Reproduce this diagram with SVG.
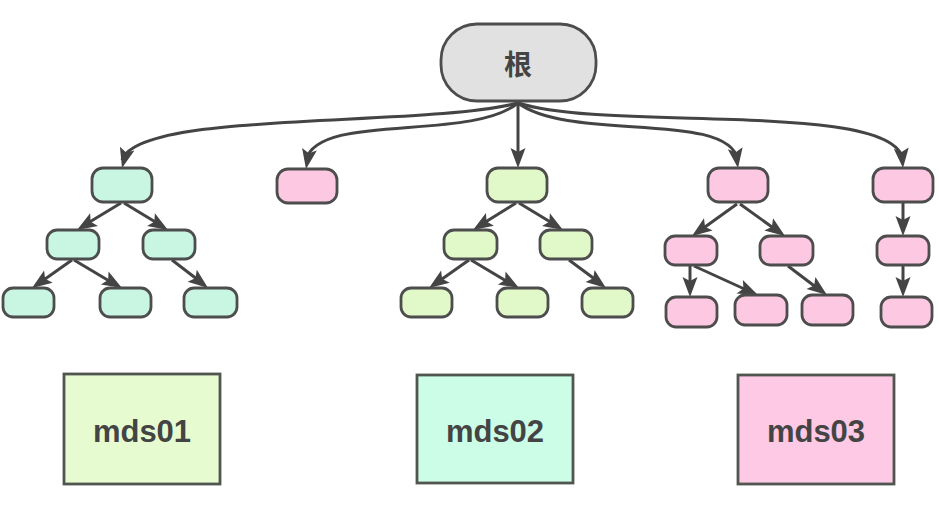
<svg xmlns="http://www.w3.org/2000/svg" xmlns:xlink="http://www.w3.org/1999/xlink" width="939" height="510" viewBox="0 0 939 510">
<defs>
<path id="tip" d="M0,0 L-20,-7.5 L-16,0 L-20,7.5 Z" fill="#444"/>
<style>
.n{stroke:#4d4d4d;stroke-width:2.8}
.t{fill:#c9f6e2}.g{fill:#e1f8c8}.p{fill:#fcc8e2}
.c{fill:none;stroke:#444;stroke-width:3}
.box{stroke:#505550;stroke-width:2.8}
.lbl{font-family:"Liberation Sans",Arial,sans-serif;font-weight:bold;font-size:31px;fill:#444;text-anchor:middle}
</style>
</defs>
<rect width="939" height="510" fill="#fff"/>
<g id="connectors">
<path class="c" d="M518,103 C420,128 140,110 122,160"/>
<path class="c" d="M518,103 C470,142 318,112 306,160"/>
<path class="c" d="M518,103 L518,160"/>
<path class="c" d="M518,103 C570,142 728,110 738,160"/>
<path class="c" d="M518,103 C610,132 895,100 903,160"/>
<path class="c" d="M121,203 L83,226"/>
<path class="c" d="M124,203 L162,226"/>
<path class="c" d="M72,260 L38,284"/>
<path class="c" d="M74,260 L116,285"/>
<path class="c" d="M172,260 L202,283"/>
<path class="c" d="M516,203 L479,226"/>
<path class="c" d="M519,203 L557,226"/>
<path class="c" d="M469,260 L435,284"/>
<path class="c" d="M471,260 L513,285"/>
<path class="c" d="M569,260 L600,283"/>
<path class="c" d="M737,204 L698,232"/>
<path class="c" d="M740,204 L779,232"/>
<path class="c" d="M690,266 L690,290"/>
<path class="c" d="M694,266 L751,292"/>
<path class="c" d="M788,266 L821,291"/>
<path class="c" d="M903,203 L903,229"/>
<path class="c" d="M903,266 L903,290"/>
<use xlink:href="#tip" transform="translate(122,168) rotate(105)"/>
<use xlink:href="#tip" transform="translate(306,169) rotate(100)"/>
<use xlink:href="#tip" transform="translate(518,168) rotate(90)"/>
<use xlink:href="#tip" transform="translate(738,168) rotate(82)"/>
<use xlink:href="#tip" transform="translate(903,168) rotate(85)"/>
<use xlink:href="#tip" transform="translate(77,230) rotate(148.5)"/>
<use xlink:href="#tip" transform="translate(168,230) rotate(31.5)"/>
<use xlink:href="#tip" transform="translate(32,288) rotate(145)"/>
<use xlink:href="#tip" transform="translate(122,288) rotate(30.3)"/>
<use xlink:href="#tip" transform="translate(208,288) rotate(37.9)"/>
<use xlink:href="#tip" transform="translate(473,230) rotate(147.9)"/>
<use xlink:href="#tip" transform="translate(563,230) rotate(31.5)"/>
<use xlink:href="#tip" transform="translate(429,288) rotate(145)"/>
<use xlink:href="#tip" transform="translate(519,288) rotate(30.3)"/>
<use xlink:href="#tip" transform="translate(606,288) rotate(37.1)"/>
<use xlink:href="#tip" transform="translate(692,236) rotate(144.6)"/>
<use xlink:href="#tip" transform="translate(785,236) rotate(35.4)"/>
<use xlink:href="#tip" transform="translate(690,297) rotate(90)"/>
<use xlink:href="#tip" transform="translate(758,295) rotate(24.4)"/>
<use xlink:href="#tip" transform="translate(827,295) rotate(36.6)"/>
<use xlink:href="#tip" transform="translate(903,236) rotate(90)"/>
<use xlink:href="#tip" transform="translate(903,297) rotate(90)"/>
</g>
<g id="root">
<rect class="n" x="441" y="24" width="155" height="77" rx="36" fill="#e1e1e1"/>
<text x="518" y="75" font-family="Noto Sans CJK SC, sans-serif" font-weight="bold" font-size="28" fill="#444" text-anchor="middle">根</text>
</g>
<g id="teal-tree">
<rect class="n t" x="92" y="168" width="60" height="34" rx="11"/>
<rect class="n t" x="47" y="230" width="52" height="29" rx="10"/>
<rect class="n t" x="143" y="230" width="52" height="29" rx="10"/>
<rect class="n t" x="3" y="288" width="51" height="29" rx="10"/>
<rect class="n t" x="100" y="288" width="51" height="29" rx="10"/>
<rect class="n t" x="184" y="288" width="53" height="29" rx="10"/>
</g>
<g id="pink-single">
<rect class="n p" x="277" y="169" width="60" height="34" rx="11"/>
</g>
<g id="green-tree">
<rect class="n g" x="487" y="168" width="60" height="34" rx="11"/>
<rect class="n g" x="444" y="230" width="53" height="29" rx="10"/>
<rect class="n g" x="540" y="230" width="52" height="29" rx="10"/>
<rect class="n g" x="401" y="288" width="51" height="29" rx="10"/>
<rect class="n g" x="497" y="288" width="51" height="29" rx="10"/>
<rect class="n g" x="582" y="288" width="51" height="29" rx="10"/>
</g>
<g id="pink-tree">
<rect class="n p" x="708" y="168" width="60" height="34" rx="11"/>
<rect class="n p" x="665" y="236" width="52" height="29" rx="10"/>
<rect class="n p" x="760" y="236" width="53" height="29" rx="10"/>
<rect class="n p" x="666" y="297" width="51" height="30" rx="10"/>
<rect class="n p" x="735" y="295" width="52" height="30" rx="10"/>
<rect class="n p" x="802" y="295" width="51" height="30" rx="10"/>
</g>
<g id="pink-chain">
<rect class="n p" x="873" y="168" width="60" height="34" rx="11"/>
<rect class="n p" x="877" y="236" width="52" height="29" rx="10"/>
<rect class="n p" x="881" y="297" width="51" height="30" rx="10"/>
</g>
<g id="mds01">
<rect class="box" x="64" y="374" width="156" height="110" fill="#e6fcd0"/>
<text class="lbl" x="142" y="442">mds01</text>
</g>
<g id="mds02">
<rect class="box" x="417" y="375" width="156" height="108" fill="#ccfde6"/>
<text class="lbl" x="495" y="442">mds02</text>
</g>
<g id="mds03">
<rect class="box" x="738" y="375" width="156" height="109" fill="#fdc9e4"/>
<text class="lbl" x="816" y="442">mds03</text>
</g>
</svg>
